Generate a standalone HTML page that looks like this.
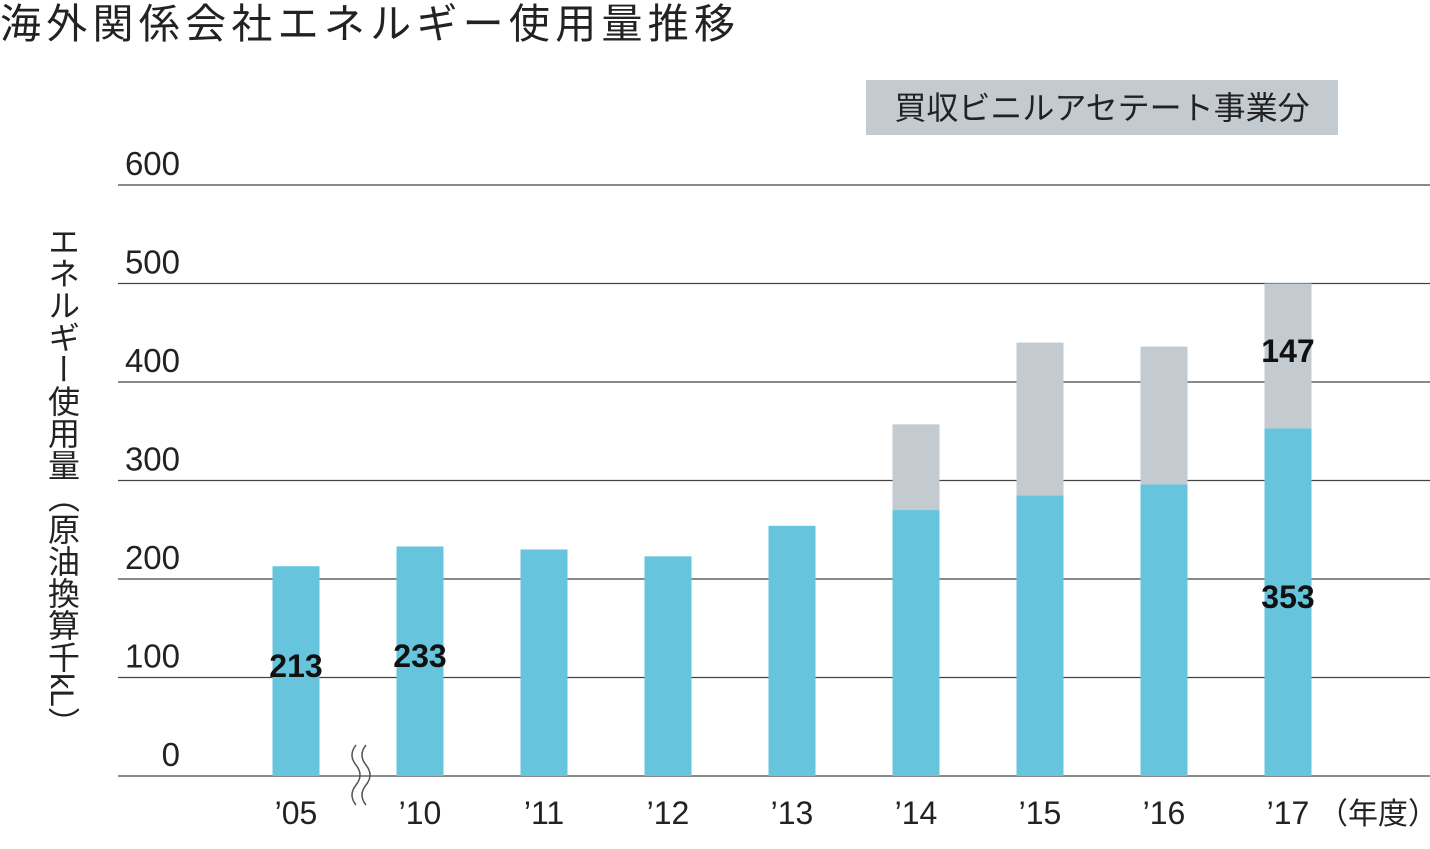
<!DOCTYPE html>
<html><head><meta charset="utf-8">
<style>
body{margin:0;width:1430px;height:844px;background:#fff;overflow:hidden;font-family:"Liberation Sans","Noto Sans CJK JP",sans-serif;}
svg text{font-family:"Liberation Sans","Noto Sans CJK JP",sans-serif;}
</style></head>
<body>
<svg id="chart" width="1430" height="844" xmlns="http://www.w3.org/2000/svg">
<text x="0" y="38" font-size="41" fill="#222" textLength="735">海外関係会社エネルギー使用量推移</text>
<rect x="866" y="80" width="472" height="55" fill="#c3cbd1"/>
<text x="1102" y="119" font-size="32" fill="#222" text-anchor="middle">買収ビニルアセテート事業分</text>
<text x="62" y="225" font-size="32" fill="#222" style="writing-mode:vertical-rl;glyph-orientation-vertical:0">エネルギー使用量（原油換算千kL）</text>
<g id="grid"></g><g id="bars"></g><g id="labels"></g>
<path d="M356 745 q-8 10 0 20 q8 10 0 20 q-8 10 0 20 M366 745 q-8 10 0 20 q8 10 0 20 q-8 10 0 20" stroke="#555" stroke-width="1.5" fill="none"/>
<text x="1318" y="824" font-size="30" fill="#222">（年度）</text>
</svg>
<script>
const categories=["’05","’10","’11","’12","’13","’14","’15","’16","’17"];
const baseValues=[213,233,230,223,254,270,285,296,353];
const acquiredValues=[0,0,0,0,0,87,155,140,147];
const yTicks=[0,100,200,300,400,500,600];
const baseLabels=["213","233","","","","","","","353"];
const acqLabels=["","","","","","","","","147"];
const ns="http://www.w3.org/2000/svg";
const svg=document.getElementById('chart');
const y0=776,pxPer=0.985;
const y=v=>y0-v*pxPer;
const x=i=>296+i*124;
function mk(tag,attrs,parent){const e=document.createElementNS(ns,tag);for(const k in attrs)e.setAttribute(k,attrs[k]);(parent||svg).appendChild(e);return e;}
const grid=document.getElementById('grid'),bars=document.getElementById('bars'),labels=document.getElementById('labels');
yTicks.forEach(t=>{
 const l=mk('line',{x1:118,x2:1430,y1:y(t),y2:y(t),stroke:'#444','stroke-width':1.2},grid);
 
 
 const tx=mk('text',{x:180,y:y(t)-10,'font-size':33,fill:'#222','text-anchor':'end'},grid);
 tx.textContent=t;
 
 
});
categories.forEach((c,i)=>{
 const b=mk('rect',{x:x(i)-23.5,y:y(baseValues[i]),width:47,height:baseValues[i]*pxPer,fill:'#66c4dd'},bars);
 
 
 if(acquiredValues[i]>0){
  const g=mk('rect',{x:x(i)-23.5,y:y(baseValues[i]+acquiredValues[i]),width:47,height:acquiredValues[i]*pxPer,fill:'#c3cbd1'},bars);
  
  
 }
 const xl=mk('text',{x:x(i),y:824,'font-size':32,fill:'#222','text-anchor':'middle'},labels);
 xl.textContent=c;
 
 
 if(baseLabels[i]){
  const v=mk('text',{x:x(i),y:y(baseValues[i]/2)+6,'font-size':32,'font-weight':'bold',fill:'#111','text-anchor':'middle'},labels);
  v.textContent=baseLabels[i];
  
  
 }
 if(acqLabels[i]){
  const v=mk('text',{x:x(i),y:y(baseValues[i]+acquiredValues[i]/2)+6,'font-size':32,'font-weight':'bold',fill:'#111','text-anchor':'middle'},labels);
  v.textContent=acqLabels[i];
  
  
 }
});
</script>
</body></html>
